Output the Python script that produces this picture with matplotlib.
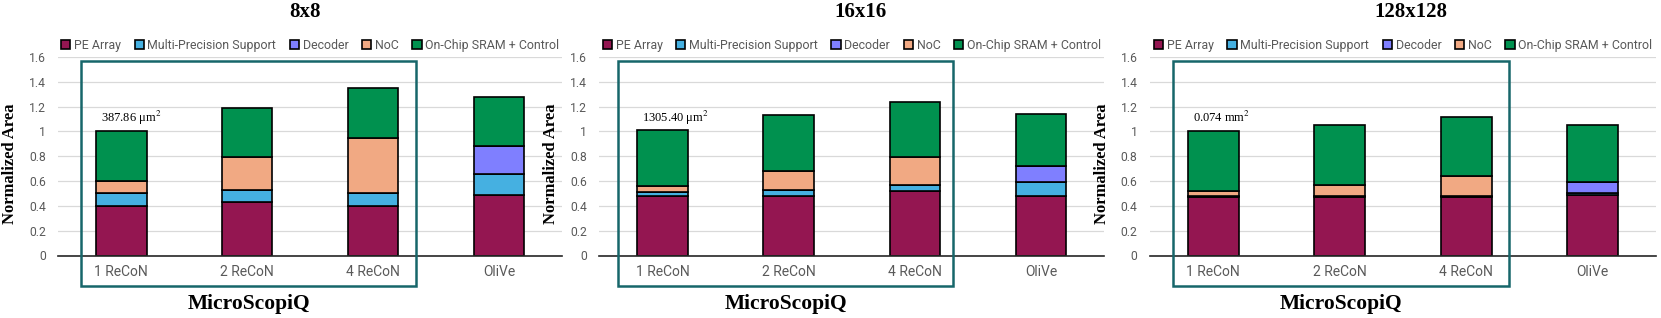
import numpy as np
import matplotlib
matplotlib.use('Agg')
import matplotlib.pyplot as plt
from matplotlib.patches import Rectangle

plt.rcParams['font.family'] = ['Roboto', 'DejaVu Sans']
plt.rcParams['mathtext.fontset'] = 'stix'

configs = ['1 ReCoN', '2 ReCoN', '4 ReCoN', 'OliVe']
components = ['PE Array', 'Multi-Precision Support', 'Decoder', 'NoC', 'On-Chip SRAM + Control']
colors = ['#941651', '#45B0E1', '#7F7FFF', '#F1A983', '#00914F']

titles = ['8x8', '16x16', '128x128']
base_area = ['387.86 \u03bcm$^2$', '1305.40 \u03bcm$^2$', '0.074 mm$^2$']

# component heights, order: PE, MPS, Decoder, NoC, SRAM
area_8 = [
    [0.40, 0.43, 0.40, 0.49],
    [0.10, 0.10, 0.10, 0.17],
    [0.00, 0.00, 0.00, 0.22],
    [0.10, 0.26, 0.45, 0.00],
    [0.40, 0.40, 0.40, 0.40],
]
area_16 = [
    [0.48, 0.48, 0.52, 0.48],
    [0.03, 0.05, 0.05, 0.11],
    [0.00, 0.00, 0.00, 0.13],
    [0.05, 0.15, 0.22, 0.00],
    [0.45, 0.45, 0.45, 0.42],
]
area_128 = [
    [0.47, 0.47, 0.47, 0.49],
    [0.01, 0.01, 0.01, 0.01],
    [0.00, 0.00, 0.00, 0.09],
    [0.04, 0.09, 0.16, 0.00],
    [0.48, 0.48, 0.48, 0.46],
]
areas = [area_8, area_16, area_128]

W, H = 1661, 318
fig = plt.figure(figsize=(W / 100, H / 100), dpi=100)

# pixel layout of each panel: axes left, width, box x-range (in category units)
lefts = [58.4, 599.3, 1150]
widths = [503.6, 505, 506]
boxes = [(-0.32, 2.34), (-0.353, 2.305), (-0.318, 2.338)]
title_x = [305, 860, 1411]
y0, y1 = 255.5, 57

x = np.arange(len(configs))
for k in range(3):
    ax = fig.add_axes([lefts[k] / W, 1 - y0 / H, widths[k] / W, (y0 - y1) / H])
    bottom = np.zeros(len(configs))
    handles = []
    for c in range(len(components)):
        vals = np.array(areas[k][c])
        b = ax.bar(x, vals, 0.4, bottom=bottom, color=colors[c], edgecolor='black',
                   linewidth=1.2, label=components[c], zorder=3)
        handles.append(b)
        bottom += vals
    ax.set_xlim(-0.5, 3.5)
    ax.set_ylim(0, 1.6)
    ax.set_yticks(np.arange(0, 1.61, 0.2))
    ax.set_yticklabels(['0', '0.2', '0.4', '0.6', '0.8', '1', '1.2', '1.4', '1.6'])
    ax.set_xticks(x)
    ax.set_xticklabels(configs, fontsize=10, color='#595959')
    ax.tick_params(axis='y', length=0, pad=9, labelsize=8.7, labelcolor='#595959')
    ax.tick_params(axis='x', length=0, pad=7)
    ax.grid(axis='y', color='#D9D9D9', linewidth=0.9, zorder=0)
    ax.set_axisbelow(True)
    for s in ['top', 'right', 'left']:
        ax.spines[s].set_visible(False)
    ax.spines['bottom'].set_color('#262626')
    ax.spines['bottom'].set_linewidth(1.2)
    ax.spines['bottom'].set_zorder(4)
    ax.set_ylabel('Normalized Area', family='Liberation Serif', fontweight='bold', fontsize=12)
    ax.yaxis.set_label_coords(-40 / widths[k], 0.46)

    ax.legend(handles=handles, loc='center', bbox_to_anchor=(0.5, 1.057), ncol=5,
              frameon=False, fontsize=8.9, labelcolor='#595959', handlelength=0.75,
              handleheight=0.75, handletextpad=0.3, columnspacing=1.1, borderaxespad=0)

    ax.text(-0.16, 1.11, base_area[k], family='Liberation Serif', fontsize=9,
            ha='left', va='center')

    bx0, bx1 = boxes[k]
    ax.add_patch(Rectangle((bx0, -0.243), bx1 - bx0, 1.565 + 0.243, fill=False,
                           edgecolor='#17666A', linewidth=1.8, clip_on=False, zorder=5))
    ax.text((bx0 + bx1) / 2, -0.39, 'MicroScopiQ', family='Liberation Serif',
            fontweight='bold', fontsize=15.5, ha='center', va='center')

    fig.text(title_x[k] / W, 1 - 12 / H, titles[k], family='Liberation Serif',
             fontweight='bold', fontsize=15, ha='center', va='center')

fig.savefig('out.png', dpi=100)
